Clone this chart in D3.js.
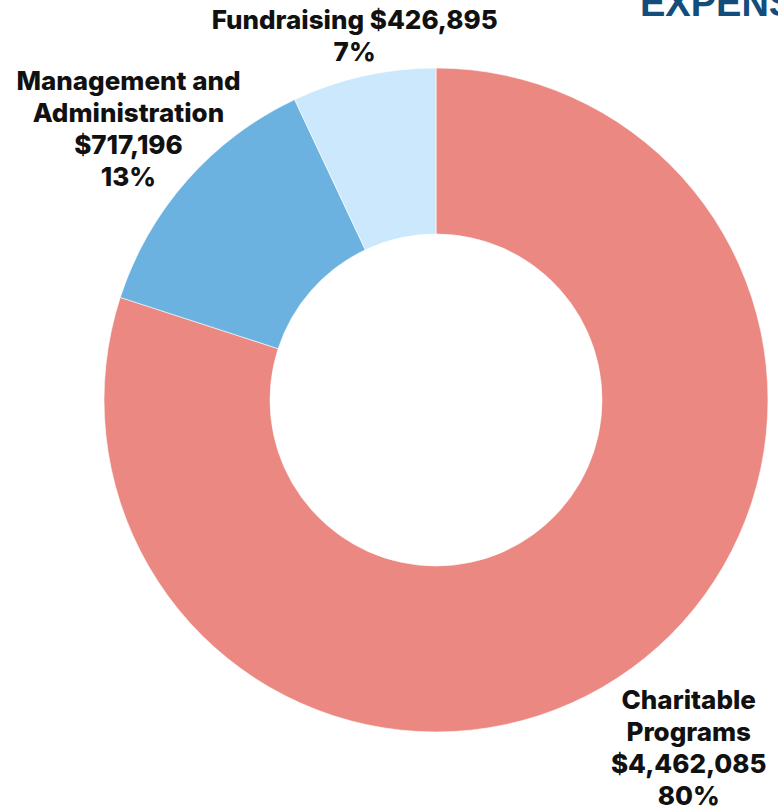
<!DOCTYPE html>
<html>
<head>
<meta charset="utf-8">
<script src="https://cdn.jsdelivr.net/npm/d3@7"></script>
<style>
  html, body { margin: 0; padding: 0; background: #fff; overflow: hidden; }
  .slice-label { font-family: Inter, "Noto Sans", sans-serif; font-weight: 800; font-size: 26px; fill: #111; }
  .title { font-family: "Liberation Sans", Arial, sans-serif; font-weight: 700; font-size: 38px; fill: #124d7b; }
</style>
</head>
<body>
<svg id="expense-chart"></svg>
<script>
// data
const categories = ["Charitable Programs", "Management and Administration", "Fundraising"];
const amounts = ["$4,462,085", "$717,196", "$426,895"];
const percents = [80, 13, 7];
const labelLines = [
    ["Charitable", "Programs", "$4,462,085", "80%"],
    ["Management and", "Administration", "$717,196", "13%"],
    ["Fundraising $426,895", "7%"]
];
const colors = ["#eb8882", "#6cb2e0", "#cce8fc"];

// layout
const baseWidth = 778;
const baseHeight = 809;
const cx = 436, cy = 400;
const outerR = 332, innerR = 166;
const lineHeight = 32;
const labelRadius = { "Charitable Programs": 430, "Management and Administration": 410, "Fundraising": 373 };

const svg = d3.select("#expense-chart")
    .attr("width", baseWidth)
    .attr("height", baseHeight);

const data = categories.map((c, i) => ({ name: c, amount: amounts[i], pct: percents[i], lines: labelLines[i] }));

const pie = d3.pie().sort(null).value(d => d.pct);
const arc = d3.arc().innerRadius(innerR).outerRadius(outerR);
const colorScale = d3.scaleOrdinal().domain(categories).range(colors);

const g = svg.append("g").attr("transform", `translate(${cx},${cy})`);

g.selectAll(".slice")
    .data(pie(data))
    .join("path")
    .attr("class", "slice")
    .attr("d", arc)
    .attr("fill", d => colorScale(d.data.name))
    .attr("stroke", "#fff")
    .attr("stroke-width", 0.6);

// labels outside the ring, along each slice's mid angle
g.selectAll(".slice-label")
    .data(pie(data))
    .join("text")
    .attr("class", "slice-label")
    .attr("text-anchor", "middle")
    .each(function (d) {
        const r = labelRadius[d.data.name];
        const a = (d.startAngle + d.endAngle) / 2;
        const x = r * Math.sin(a);
        const y = -r * Math.cos(a);
        const n = d.data.lines.length;
        d3.select(this).selectAll("tspan")
            .data(d.data.lines)
            .join("tspan")
            .attr("x", x)
            .attr("y", (t, i) => y + (i - (n - 1) / 2) * lineHeight)
            .attr("dy", "0.35em")
            .text(t => t);
    });

// title, cut off at the top right like the original
svg.append("text")
    .attr("class", "title")
    .attr("x", 640)
    .attr("y", 16)
    .text("EXPENSES");
</script>
</body>
</html>
